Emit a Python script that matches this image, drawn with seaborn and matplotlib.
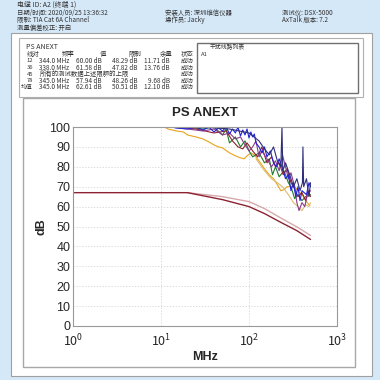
import numpy as np
import pandas as pd
import matplotlib
matplotlib.use('Agg')
import matplotlib.pyplot as plt
from matplotlib.patches import Rectangle
import seaborn as sns

blue_f = [10, 15, 20, 25, 30, 35, 40, 45, 50, 55, 60, 65, 70, 75, 80, 85, 90, 95, 100, 105, 110, 115, 120, 130, 140, 150, 160, 175, 190, 205, 220, 245, 260, 280, 300, 320, 340, 360, 380, 400, 450, 480, 500]
blue_db = [101, 99.5, 99, 100, 98.5, 100, 97.5, 99.5, 98, 100, 96.5, 99, 97, 100, 95.5, 98.5, 96, 99, 94.5, 97.5, 95, 96.5, 92, 90, 87, 90, 85, 88, 82, 80, 84, 78, 74, 76, 68, 72, 65, 70, 63, 68, 66, 72, 70]

navy_f = [10, 30, 60, 100, 130, 150, 170, 190, 210, 230, 237, 242, 260, 290, 320, 350, 380, 405, 410, 418, 450, 480, 500]
navy_db = [101, 100, 99, 97, 93, 89, 86, 90, 83, 80, 100, 78, 82, 76, 70, 74, 68, 72, 90, 70, 74, 65, 72]

purple_f = [10, 20, 30, 40, 50, 60, 70, 80, 90, 100, 110, 120, 130, 140, 160, 180, 200, 220, 240, 260, 280, 300, 330, 350, 370, 400, 430, 460, 500]
purple_db = [100.5, 99, 98, 99, 96, 97, 94, 95, 91, 88, 90, 93, 85, 88, 84, 80, 83, 78, 86, 80, 74, 77, 70, 62, 58, 62, 60, 66, 68]

green_f = [15, 30, 40, 50, 55, 60, 70, 80, 90, 100, 110, 130, 150, 170, 185, 200, 220, 250, 280, 300, 330, 360, 400, 440, 500]
green_db = [100.5, 99, 100, 96, 99, 92, 95, 90, 93, 88, 85, 87, 82, 84, 76, 80, 75, 78, 72, 70, 64, 66, 63, 65, 66]

red_f = [12, 25, 40, 55, 65, 75, 85, 95, 110, 125, 140, 160, 180, 200, 220, 245, 270, 300, 330, 360, 400, 440, 470, 500]
red_db = [100.5, 99, 97, 98, 93, 90, 89, 92, 88, 85, 90, 82, 85, 80, 82, 76, 79, 72, 69, 65, 67, 63, 68, 65]

tan_f = [120, 150, 180, 210, 240, 280, 320, 360, 400, 440, 480, 500]
tan_db = [84, 78, 74, 72, 70, 66, 62, 60, 58, 61, 60, 62]

orange_f = [10, 12, 15, 18, 20, 25, 30, 35, 40, 45, 50, 60, 70, 80, 88, 95, 105, 115, 130, 150, 170, 190, 210, 230, 250, 270, 300, 330, 360, 400, 430, 460, 490]
orange_db = [101, 99, 98, 97.5, 96, 95, 94, 92.5, 91, 90, 89.5, 87, 85.5, 84.5, 84, 85.5, 87, 86, 83, 79, 76, 74, 71, 68, 68.5, 70, 70, 70, 68, 66, 64, 62, 60.5]

# limit lines
limit_f = [1, 20, 50, 100, 150, 225, 350, 500]
limit_db = [67, 67, 63.5, 60, 56.5, 52.3, 47.9, 43.5]
limit2_f = [20, 50, 100, 150, 225, 350, 500]
limit2_db = [67, 65, 62.5, 59, 54.5, 49.8, 45.5]

trace_names = ['orange', 'tan', 'green', 'red', 'purple', 'blue', 'navy']
trace_colors = ['#e8a31a', '#d9bd72', '#1f7a2a', '#8e2230', '#8a3c8f', '#2222d8', '#2e2e7a']

header_left = ['电缆 ID: A2 (终端 1)', '日期/时间: 2020/09/25 13:36:32',
               '限制: TIA Cat 6A Channel', '测量偏差校正: 开启']
header_mid = ['安装人员: 深圳维信仪器', '操作员: Jacky']
header_right = ['测试仪: DSX-5000', 'AxTalk 版本: 7.2']

table_head = ['线对', '频率', '值', '限制', '余量', '状态']
table_rows = [
    ['12', '344.0 MHz', '60.00 dB', '48.29 dB', '11.71 dB', '成功'],
    ['36', '338.0 MHz', '61.58 dB', '47.82 dB', '13.76 dB', '成功'],
    ['45', '所有的测试数据上述限额的上限', '', '', '', '成功'],
    ['78', '345.0 MHz', '57.94 dB', '48.26 dB', '9.68 dB', '成功'],
    ['均值', '345.0 MHz', '62.61 dB', '50.51 dB', '12.10 dB', '成功'],
]

traces = {'orange': (orange_f, orange_db), 'tan': (tan_f, tan_db), 'green': (green_f, green_db),
          'red': (red_f, red_db), 'purple': (purple_f, purple_db), 'blue': (blue_f, blue_db),
          'navy': (navy_f, navy_db)}
frames = []
for name in trace_names:
    f, db = traces[name]
    frames.append(pd.DataFrame({'freq': f, 'db': db, 'trace': name}))
df = pd.concat(frames, ignore_index=True)

sns.set_style('whitegrid')
plt.rcParams['font.family'] = ['Noto Sans CJK SC', 'DejaVu Sans']

W = H = 380
fig = plt.figure(figsize=(3.8, 3.8), dpi=100)
fig.patch.set_facecolor('#d5e8f8')


def px(x, y):
    return x / W, 1 - y / H


def box(x0, y0, x1, y1, fc='none', ec='#888888', lw=0.8):
    fx, fy = px(x0, y1)
    fig.patches.append(Rectangle((fx, fy), (x1 - x0) / W, (y1 - y0) / H, transform=fig.transFigure,
                                 facecolor=fc, edgecolor=ec, linewidth=lw, zorder=-1))


def txt(x, y, s, size=4.6, **kw):
    fx, fy = px(x, y)
    fig.text(fx, fy, s, fontsize=size, va='center', color='#333333', **kw)


box(11, 33, 372, 376, fc='white', ec='#a0a0a0')
box(19, 38, 363, 97, ec='#b0b0b0')
box(197, 43, 358, 93, ec='#707070', lw=1.0)
box(23, 98, 355, 367, ec='#a8a8a8', lw=1.0)

for i, s in enumerate(header_left):
    txt(17, 5 + i * 7.5, s, size=5.0 if i == 0 else 4.6)
for i, s in enumerate(header_mid):
    txt(165, 12.5 + i * 7.5, s)
for i, s in enumerate(header_right):
    txt(282, 12.5 + i * 7.5, s)

txt(26, 47, 'PS ANEXT', size=5.0)
head_x = [27, 62, 100, 128, 160, 181]
for x, s in zip(head_x, table_head):
    txt(x, 54, s)
row_x = [33, 69, 102, 137, 170, 181]
for r, row in enumerate(table_rows):
    y = 61 + r * 6.6
    for c, s in enumerate(row):
        if not s:
            continue
        if c == 0:
            txt(row_x[0], y, s, ha='right', size=4.2)
        elif r == 2 and c == 1:
            txt(40, y, s)
        elif c == 5:
            txt(row_x[5], y, s)
        else:
            txt(row_x[c], y, s, ha='right')
txt(210, 47, '干扰线路列表', size=4.2)
txt(201, 54, 'A1', size=4.2)

ax = fig.add_axes([73 / W, 1 - 326 / H, (337 - 73) / W, (326 - 127) / H])
ax.set_xscale('log')
sns.lineplot(data=df, x='freq', y='db', hue='trace', hue_order=trace_names,
             palette=dict(zip(trace_names, trace_colors)), estimator=None, sort=False,
             legend=False, linewidth=0.8, ax=ax)
ax.plot(limit2_f, limit2_db, color='#d7a9ad', linewidth=1.0)
ax.plot(limit_f, limit_db, color='#8b2332', linewidth=1.0)

ax.set_xlim(1, 1000)
ax.set_ylim(0, 100)
ax.set_yticks(range(0, 101, 10))
ax.set_xticks([1, 10, 100, 1000])
ax.minorticks_off()
ax.grid(True, color='#d4d4d4', linestyle=(0, (1.5, 2)), linewidth=0.6)
for sp in ax.spines.values():
    sp.set_color('#999999')
    sp.set_linewidth(0.8)
ax.tick_params(labelsize=9, length=0)
ax.tick_params(axis='y', pad=2)
ax.tick_params(axis='x', pad=5)
for lab in ax.get_yticklabels():
    lab.set_family('Liberation Sans')
ax.set_xlabel('MHz', fontsize=9, fontweight='bold', family='Liberation Sans', labelpad=1)
ax.set_ylabel('dB', fontsize=9, fontweight='bold', family='Liberation Sans', labelpad=1)
ax.set_title('PS ANEXT', fontsize=9.5, fontweight='bold', family='Liberation Sans', pad=8)

fig.savefig('out.png', dpi=100)
